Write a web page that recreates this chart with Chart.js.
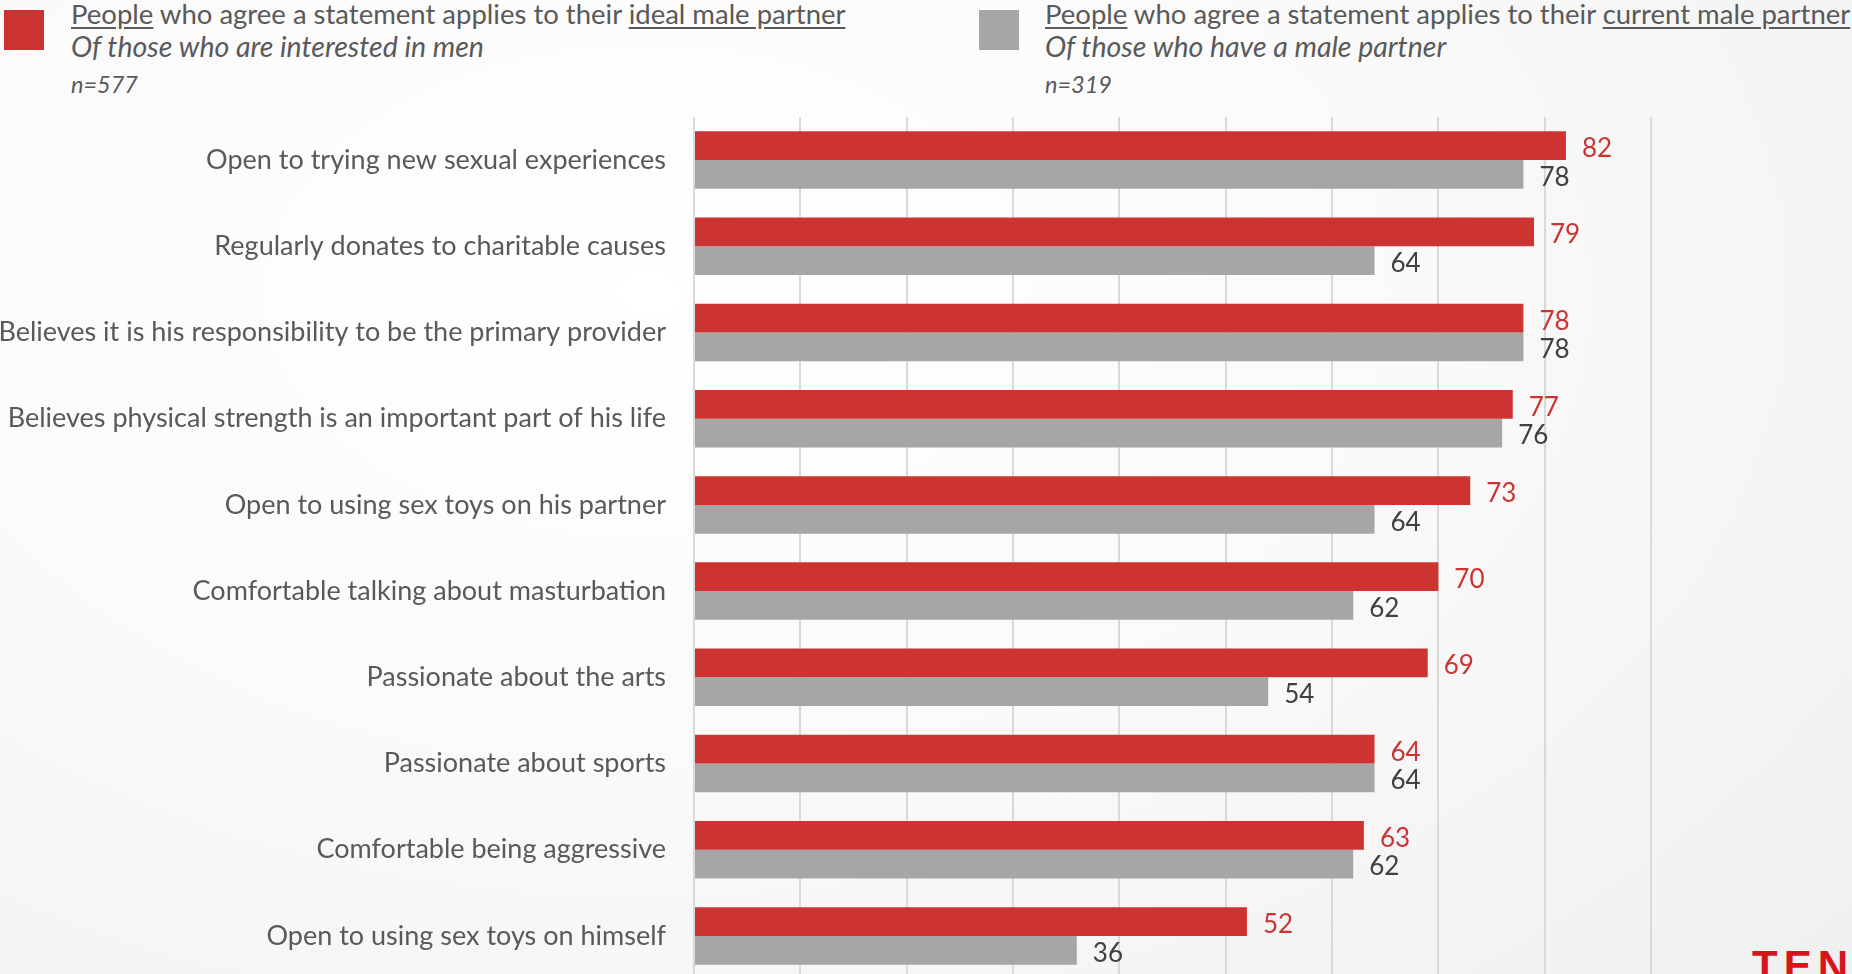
<!DOCTYPE html>
<html>
<head>
<meta charset="utf-8">
<script src="https://cdn.jsdelivr.net/npm/chart.js@4.4.1/dist/chart.umd.min.js"></script>
<style>
  html, body { margin: 0; padding: 0; }
  body {
    width: 1852px; height: 974px; overflow: hidden; position: relative;
    font-family: Lato, sans-serif;
    background: radial-gradient(ellipse 90% 110% at 35% 30%, #ffffff 0%, #fafafa 45%, #efefef 100%);
  }
  .swatch { position: absolute; top: 10px; width: 40px; height: 40px; }
  .leg { position: absolute; color: #595959; white-space: nowrap; line-height: 1; }
  .l1 { top: 0px; font-size: 27.5px; }
  .l2 { top: 32px; font-size: 28.5px; font-style: italic; }
  .l3 { top: 73px; font-size: 23.5px; font-style: italic; }
  u { text-underline-offset: 3px; }
  #wrap { position: absolute; left: -40px; top: 0; width: 1700px; height: 1000px; }
  .logo { position: absolute; left: 1752px; top: 945px; color: #d7141a; font: bold 42px "Liberation Sans", sans-serif; letter-spacing: 6px; line-height: 1; }
</style>
</head>
<body>
<div class="swatch" style="left:4px;background:#cd3431"></div>
<div class="leg l1" style="left:71px"><u>People</u> who agree a statement applies to their <u>ideal male partner</u></div>
<div class="leg l2" style="left:71px">Of those who are interested in men</div>
<div class="leg l3" style="left:71px">n=577</div>

<div class="swatch" style="left:979px;background:#a6a6a6"></div>
<div class="leg l1" style="left:1045px"><u>People</u> who agree a statement applies to their <u>current male partner</u></div>
<div class="leg l2" style="left:1045px">Of those who have a male partner</div>
<div class="leg l3" style="left:1045px">n=319</div>

<div id="wrap"><canvas id="chart" width="1700" height="1000"></canvas></div>
<div class="logo">TENGA</div>

<script>
const statements = [
  'Open to trying new sexual experiences',
  'Regularly donates to charitable causes',
  'Believes it is his responsibility to be the primary provider',
  'Believes physical strength is an important part of his life',
  'Open to using sex toys on his partner',
  'Comfortable talking about masturbation',
  'Passionate about the arts',
  'Passionate about sports',
  'Comfortable being aggressive',
  'Open to using sex toys on himself'
];
const idealPartner = [82, 79, 78, 77, 73, 70, 69, 64, 63, 52];
const currentPartner = [78, 64, 78, 76, 64, 62, 54, 64, 62, 36];

const RED = '#cd3431';
const GREY = '#a6a6a6';

// écrit la valeur au bout de chaque barre
const valueLabels = {
  id: 'valueLabels',
  afterDatasetsDraw(chart) {
    const ctx = chart.ctx;
    ctx.save();
    ctx.font = '26px Lato';
    ctx.textAlign = 'left';
    ctx.textBaseline = 'middle';
    chart.data.datasets.forEach((ds, di) => {
      const meta = chart.getDatasetMeta(di);
      ctx.fillStyle = ds.labelColor;
      meta.data.forEach((bar, i) => {
        ctx.fillText(String(ds.data[i]), bar.x + 16, bar.y + 3);
      });
    });
    ctx.restore();
  }
};

new Chart(document.getElementById('chart').getContext('2d'), {
  type: 'bar',
  data: {
    labels: statements,
    datasets: [
      { label: 'ideal', data: idealPartner, backgroundColor: RED, labelColor: '#cc3333',
        categoryPercentage: 0.667, barPercentage: 1.0 },
      { label: 'current', data: currentPartner, backgroundColor: GREY, labelColor: '#404040',
        categoryPercentage: 0.667, barPercentage: 1.0 }
    ]
  },
  options: {
    indexAxis: 'y',
    responsive: false,
    animation: false,
    layout: { padding: { top: 117, right: 9, bottom: 21, left: 0 } },
    scales: {
      x: {
        min: 0,
        max: 90,
        ticks: { display: false, stepSize: 10 },
        grid: { color: '#d9d9d9', lineWidth: 2, drawTicks: false },
        border: { display: false },
        afterFit(scale) { scale.height = 0; }
      },
      y: {
        grid: { display: false, drawTicks: false },
        border: { display: false },
        ticks: { color: '#595959', font: { family: 'Lato', size: 27 }, padding: 28 },
        // largeur fixe de l'axe, pas de marge haute/basse pour les libellés
        afterFit(scale) {
          scale.width = 734;
          scale.paddingTop = 0;
          scale.paddingBottom = 0;
        }
      }
    },
    plugins: {
      legend: { display: false },
      tooltip: { enabled: false }
    }
  },
  plugins: [valueLabels]
});
</script>
</body>
</html>
